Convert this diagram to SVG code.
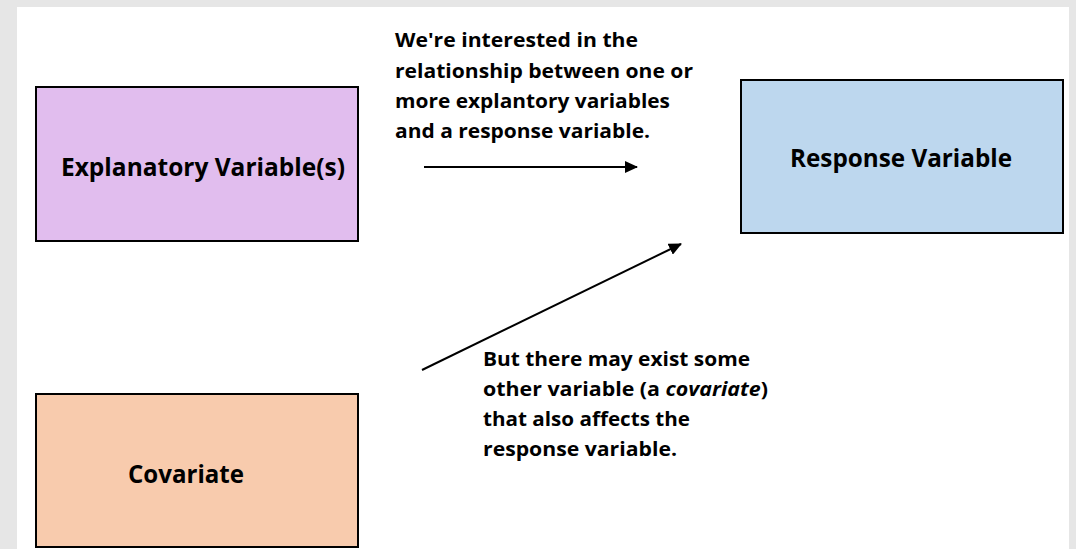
<svg xmlns="http://www.w3.org/2000/svg" width="1076" height="549" viewBox="0 0 1076 549">
  <defs>
    <style>
      .box { stroke: #000; stroke-width: 2; }
      .lbl { font-family: "Open Sans", "Liberation Sans", sans-serif; font-weight: bold; font-size: 25px; fill: #000; }
      .note { font-family: "Open Sans", "Liberation Sans", sans-serif; font-weight: bold; font-size: 19px; fill: #000; }
      .conn { stroke: #000; stroke-width: 2; fill: none; }
    </style>
    <marker id="arrow" viewBox="0 0 13 12" refX="12" refY="6" markerWidth="13" markerHeight="12" markerUnits="userSpaceOnUse" orient="auto">
      <path d="M0,0 L13,6 L0,12 Z" fill="#000"/>
    </marker>
  </defs>
  <rect x="0" y="0" width="1076" height="549" fill="#e6e6e6"/>
  <rect x="17" y="7" width="1052" height="542" fill="#ffffff"/>

  <g id="explanatory">
    <rect class="box" x="36" y="87" width="322" height="154" fill="#e1bdee"/>
    <text class="lbl" x="61" y="176" textLength="284" lengthAdjust="spacingAndGlyphs">Explanatory Variable(s)</text>
  </g>
  <g id="response">
    <rect class="box" x="741" y="80" width="322" height="153" fill="#bdd7ee"/>
    <text class="lbl" x="790" y="167" textLength="222" lengthAdjust="spacingAndGlyphs">Response Variable</text>
  </g>
  <g id="covariate">
    <rect class="box" x="36" y="394" width="322" height="153" fill="#f8cbad"/>
    <text class="lbl" x="128" y="483" textLength="116" lengthAdjust="spacingAndGlyphs">Covariate</text>
  </g>

  <g id="note1">
    <text class="note" x="395" y="47" textLength="243" lengthAdjust="spacingAndGlyphs">We're interested in the</text>
    <text class="note" x="395" y="78" textLength="298" lengthAdjust="spacingAndGlyphs">relationship between one or</text>
    <text class="note" x="395" y="108" textLength="275" lengthAdjust="spacingAndGlyphs">more explantory variables</text>
    <text class="note" x="395" y="138" textLength="255" lengthAdjust="spacingAndGlyphs">and a response variable.</text>
  </g>
  <g id="note2">
    <text class="note" x="483" y="366" textLength="267" lengthAdjust="spacingAndGlyphs">But there may exist some</text>
    <text class="note" x="483" y="396" textLength="285" lengthAdjust="spacingAndGlyphs">other variable (a <tspan font-style="italic">covariate</tspan>)</text>
    <text class="note" x="483" y="426" textLength="207" lengthAdjust="spacingAndGlyphs">that also affects the</text>
    <text class="note" x="483" y="456" textLength="194" lengthAdjust="spacingAndGlyphs">response variable.</text>
  </g>

  <g id="connectors">
    <line class="conn" x1="424" y1="167" x2="637" y2="167" marker-end="url(#arrow)"/>
    <line class="conn" x1="422" y1="370" x2="681" y2="244" marker-end="url(#arrow)"/>
  </g>
</svg>
